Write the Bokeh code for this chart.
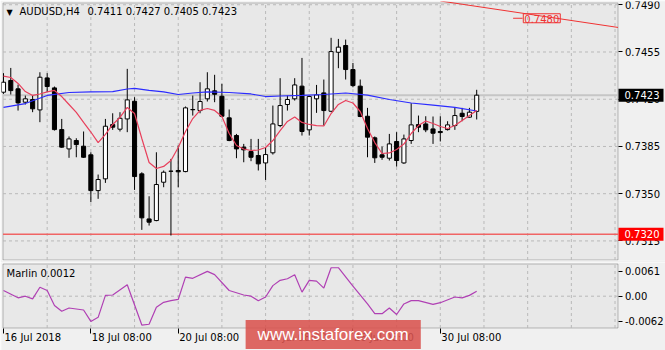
from bokeh.plotting import figure
from bokeh.layouts import column
from bokeh.models import (Range1d, FixedTicker, PrintfTickFormatter, CustomJSTickFormatter,
                          Label, BoxAnnotation, ColumnDataSource)
from bokeh.embed import file_html
from bokeh.resources import INLINE

# ---------------- data ----------------
symbol = "AUDUSD,H4"

bar_open = [0.74252, 0.74339, 0.74277, 0.74178, 0.74198, 0.74121, 0.74358, 0.74284, 0.73975, 0.73832,
            0.73894, 0.73852, 0.73788, 0.73523, 0.73610, 0.74012, 0.73978, 0.74054, 0.74185, 0.73647,
            0.73313, 0.73301, 0.73585, 0.73667, 0.73672, 0.73664, 0.74124, 0.74116, 0.74203, 0.74262,
            0.74222, 0.74062, 0.73931, 0.73845, 0.73812, 0.73783, 0.73728, 0.73803, 0.74005, 0.74161,
            0.74203, 0.74297, 0.73973, 0.74203, 0.74247, 0.74111, 0.74548, 0.74598, 0.74420, 0.74297,
            0.74074, 0.73914, 0.73788, 0.73763, 0.73887, 0.73728, 0.73894, 0.74012, 0.74017, 0.73980,
            0.73961, 0.73975, 0.74005, 0.74096, 0.74067, 0.7411]
bar_high = [0.74393, 0.74432, 0.74309, 0.74227, 0.74227, 0.74400, 0.74393, 0.74294, 0.74054, 0.73924,
            0.73911, 0.73961, 0.73807, 0.73642, 0.74054, 0.74096, 0.74104, 0.74425, 0.74215, 0.73659,
            0.73481, 0.73807, 0.73672, 0.73758, 0.73857, 0.74146, 0.74227, 0.74326, 0.74400, 0.74381,
            0.74314, 0.74124, 0.73943, 0.73869, 0.73906, 0.73906, 0.73845, 0.74153, 0.74356, 0.74227,
            0.74356, 0.74506, 0.74227, 0.74306, 0.74346, 0.74655, 0.74647, 0.74642, 0.74469, 0.74346,
            0.74136, 0.73924, 0.73849, 0.73943, 0.73956, 0.73938, 0.74171, 0.74079, 0.74074, 0.74072,
            0.74074, 0.74037, 0.74141, 0.74136, 0.74136, 0.7427]
bar_low = [0.74240, 0.74235, 0.74116, 0.74161, 0.74104, 0.74030, 0.74252, 0.73968, 0.73840, 0.73766,
           0.73770, 0.73766, 0.73437, 0.73462, 0.73580, 0.73973, 0.73961, 0.73956, 0.73528, 0.73232,
           0.73264, 0.73296, 0.73548, 0.73190, 0.73548, 0.73659, 0.74079, 0.74096, 0.74183, 0.74178,
           0.74067, 0.73889, 0.73763, 0.73733, 0.73741, 0.73672, 0.73602, 0.73790, 0.73993, 0.74116,
           0.74190, 0.73931, 0.73931, 0.74099, 0.74005, 0.74104, 0.74430, 0.74346, 0.74289, 0.74067,
           0.73770, 0.73728, 0.73751, 0.73746, 0.73701, 0.73721, 0.73869, 0.73956, 0.73956, 0.73869,
           0.73887, 0.73968, 0.73973, 0.74037, 0.74062, 0.7405]
bar_close = [0.74326, 0.74264, 0.74173, 0.74203, 0.74129, 0.74363, 0.74294, 0.73975, 0.73845, 0.73906,
             0.73864, 0.73770, 0.73523, 0.73605, 0.74000, 0.73993, 0.74059, 0.74195, 0.73627, 0.73321,
             0.73289, 0.73568, 0.73659, 0.73666, 0.73662, 0.74136, 0.74122, 0.74183, 0.74277, 0.74237,
             0.74074, 0.73894, 0.73832, 0.73825, 0.73770, 0.73721, 0.73790, 0.74017, 0.74153, 0.74198,
             0.74306, 0.73961, 0.74220, 0.74232, 0.74116, 0.74553, 0.74586, 0.74420, 0.74301, 0.74072,
             0.73919, 0.73766, 0.73770, 0.73869, 0.73746, 0.73906, 0.74010, 0.73993, 0.73973, 0.73948,
             0.73953, 0.74010, 0.74079, 0.74072, 0.74104, 0.7423]

# slow moving average (blue), read at selected bars
ma_slow_idx = [0, 3, 6, 9, 12, 15, 17, 18, 20, 22, 24, 26, 28, 31, 34, 36, 38, 41, 44, 47, 50, 53,
               56, 59, 62, 65]
ma_slow_val = [0.74139, 0.74168, 0.74228, 0.74250, 0.74254, 0.74257, 0.74276, 0.74280, 0.74265,
               0.74254, 0.74235, 0.74246, 0.74254, 0.74250, 0.74239, 0.74220, 0.74224, 0.74228,
               0.74235, 0.74246, 0.74231, 0.74198, 0.74172, 0.74157, 0.74139, 0.74113]

# fast moving average (red), one value per bar
ma_fast_val = [0.74371, 0.74361, 0.74317, 0.74257, 0.74228, 0.74239, 0.74254, 0.74265, 0.74220, 0.74161,
               0.74102, 0.74028, 0.73957, 0.73879, 0.73939, 0.74013, 0.74065, 0.74139, 0.74094, 0.73909,
               0.73731, 0.73687, 0.73702, 0.73746, 0.73842, 0.73961, 0.74057, 0.74117, 0.74131, 0.74117,
               0.74072, 0.73946, 0.73857, 0.73831, 0.73820, 0.73824, 0.73842, 0.73894, 0.73968, 0.74035,
               0.74068, 0.74028, 0.74013, 0.74005, 0.74002, 0.74094, 0.74161, 0.74191, 0.74172, 0.74109,
               0.73983, 0.73879, 0.73798, 0.73802, 0.73828, 0.73868, 0.73946, 0.74005, 0.74039, 0.74020,
               0.73998, 0.73983, 0.74005, 0.74042, 0.74079, 0.74117]

# Marlin oscillator
marlin_idx = [0, 2, 3, 4, 5, 6, 7, 8, 9, 11, 12, 13, 14, 15, 17, 19, 20, 21, 22, 23, 24, 25, 26, 28,
              29, 31, 33, 34, 35, 36, 37, 38, 39, 40, 41, 42, 43, 44, 45, 46, 48, 50, 51, 52, 53, 54,
              55, 56, 57, 59, 60, 62, 63, 64, 65]
marlin_val = [0.0014, -0.0004, 0.0000, -0.00065, 0.0022, 0.0014, -0.0023, -0.0037, -0.0029, -0.0034,
              -0.0062, -0.0052, 0.0002, 0.0003, 0.0028, -0.0071, -0.0069, -0.0027, -0.0015, -0.0011,
              -0.0008, 0.0047, 0.0044, 0.0061, 0.0053, 0.0014, 0.0003, 0.0000, -0.0011, -0.0002,
              0.0026, 0.0039, 0.0043, 0.0053, 0.0010, 0.0039, 0.0037, 0.0020, 0.0070, 0.0070, 0.0025,
              -0.0019, -0.0043, -0.0043, -0.0029, -0.0045, -0.0019, -0.0011, -0.0011, -0.0020, -0.0016,
              -0.0002, -0.0004, 0.0002, 0.0012]

# levels and trend line
support_level = 0.7320
trend_x = [60, 84.41]
trend_y = [0.74928, 0.74732]
trend_label_price = 0.7480
trend_label_idx = 71.4
trend_tick_x = [70.0, 71.3]

# axes
price_ticks = [0.7490, 0.7455, 0.7420, 0.7385, 0.7350, 0.7315]
marlin_ticks = [0.0061, 0.0, -0.0062]
date_ticks = [0, 12, 24, 36, 48, 60]
date_labels = ["16 Jul 2018", "18 Jul 08:00", "20 Jul 08:00", "24 Jul 08:00", "26 Jul 08:00",
               "30 Jul 08:00"]
grid_ticks = [6, 12, 18, 24, 30, 36, 42, 48, 54, 60, 66, 72, 78, 84]

# ---------------- layout geometry (canvas pixels -> data) ----------------
PX0, PXB = 3.0, 7.28               # canvas x of bar 0, pixels per bar
P_REF, P_PX = 0.749316, 0.0000741  # price at canvas y=0, price per pixel
M_ZERO, M_PX = 295.7, 0.000246     # canvas y of Marlin 0, Marlin units per pixel


def xd(cx):
    return (cx - PX0) / PXB


def yd(cy):
    return P_REF - P_PX * cy


def md(cy):
    return (M_ZERO - cy) * M_PX


FONT = "DejaVu Sans"
BG = "#E8E8E8"
BORDER = "#F0F0F0"
GRID = "#B9B9B9"
FRAME = "#333333"

x_left, x_right = xd(2.5), xd(617.5)
main_top, main_bot = yd(2.5), yd(259.5)
ind_top, ind_bot = md(263.5), md(327.5)

n = len(bar_open)
idx = list(range(n))
up = [c >= o for o, c in zip(bar_open, bar_close)]
src = ColumnDataSource(dict(
    x=idx, h=bar_high, l=bar_low,
    top=[max(o, c) for o, c in zip(bar_open, bar_close)],
    bot=[min(o, c) for o, c in zip(bar_open, bar_close)],
    fill=["#FFFFFF" if u else "#000000" for u in up],
))

xr = Range1d(xd(1), xd(665))

# ---------------- main price panel ----------------
p = figure(width=665, height=262, x_range=xr, y_range=Range1d(yd(260), yd(1)),
           output_backend="svg", toolbar_location=None, x_axis_location=None,
           y_axis_location="right", min_border_left=1, min_border_right=0,
           min_border_top=1, min_border_bottom=2, background_fill_color=BORDER,
           border_fill_color=BORDER, outline_line_color=None)
p.grid.visible = False

p.add_layout(BoxAnnotation(left=x_left, right=x_right, top=main_top, bottom=main_bot,
                           fill_color=BG, fill_alpha=1, line_color=FRAME, line_width=1,
                           level="underlay"))

# grid
p.segment(x0=grid_ticks, y0=[main_bot] * len(grid_ticks), x1=grid_ticks,
          y1=[main_top] * len(grid_ticks), line_color=GRID, line_dash="3 3", line_width=1)
p.segment(x0=[x_left] * len(price_ticks), y0=price_ticks, x1=[x_right] * len(price_ticks),
          y1=price_ticks, line_color=GRID, line_dash="3 3", line_width=1)

p.yaxis.fixed_location = x_right
p.yaxis.ticker = FixedTicker(ticks=price_ticks)
p.yaxis.formatter = PrintfTickFormatter(format="%.4f")
p.yaxis.major_tick_out = 4
p.yaxis.major_tick_in = 0
p.yaxis.minor_tick_line_color = None
p.yaxis.axis_line_color = None
p.yaxis.major_tick_line_color = "#000000"
p.yaxis.major_label_standoff = 3
p.yaxis.major_label_text_font = FONT
p.yaxis.major_label_text_font_size = "10px"
p.yaxis.major_label_text_color = "#000000"

# bid line and support level
p.line([x_left, x_right], [bar_close[-1]] * 2, line_color="#C6C6C6", line_width=2)
p.line([x_left, x_right], [support_level] * 2, line_color="#F06464", line_width=1.5)

# trend line with its price label
p.line(trend_x, trend_y, line_color="#F03232", line_width=1)
p.segment(x0=[trend_tick_x[0]], y0=[trend_label_price], x1=[trend_tick_x[1]],
          y1=[trend_label_price], line_color="#F03232", line_width=1)
p.add_layout(Label(x=trend_label_idx, y=trend_label_price, text=f"{trend_label_price:.4f}",
                   text_font=FONT, text_font_size="10px", text_color="#F03232",
                   text_baseline="middle", text_align="left",
                   border_line_color="#F03232", border_line_width=1,
                   padding=dict(left=1, right=1, top=1, bottom=0)))

# candles
p.segment(x0="x", y0="l", x1="x", y1="h", source=src, line_color="#000000", line_width=1)
p.vbar(x="x", top="top", bottom="bot", width=0.56, source=src, fill_color="fill",
       line_color="#000000", line_width=1)

# moving averages
p.line(ma_slow_idx, ma_slow_val, line_color="#2B2BFF", line_width=1.2)
p.line(idx, ma_fast_val, line_color="#E8405C", line_width=1.2)

# header
p.add_layout(Label(x=xd(6), y=yd(11.5), text="\u25BC", text_font=FONT, text_font_size="8px",
                   text_color="#000000", text_baseline="middle"))
p.add_layout(Label(x=xd(19), y=yd(16.5), text=symbol, text_font=FONT, text_font_size="10px",
                   text_color="#000000"))
p.add_layout(Label(x=xd(87), y=yd(16.5),
                   text=" ".join(f"{v:.4f}" for v in (bar_open[-1], bar_high[-1], bar_low[-1], bar_close[-1])),
                   text_font=FONT, text_font_size="10px", text_color="#000000"))

# price boxes on the right scale (box drawn above the axis, then its text)
for lvl, col in ((bar_close[-1], "#000000"), (support_level, "#FF0000")):
    p.add_layout(BoxAnnotation(left=xd(618), right=xd(663), top=lvl + 6.5 * P_PX,
                               bottom=lvl - 6.5 * P_PX, fill_color=col, fill_alpha=1,
                               line_color=None))
    p.add_layout(Label(x=xd(624), y=lvl, text=f"{lvl:.4f}", text_font=FONT,
                       text_font_size="10px", text_color="#FFFFFF", text_baseline="middle"))

# ---------------- indicator panel ----------------
q = figure(width=665, height=88, x_range=xr, y_range=Range1d(md(350), md(262)),
           output_backend="svg", toolbar_location=None, y_axis_location="right",
           x_axis_location="below", min_border_left=1, min_border_right=0, min_border_top=0,
           min_border_bottom=0, background_fill_color=BORDER, border_fill_color=BORDER,
           outline_line_color=None)
q.grid.visible = False

q.add_layout(BoxAnnotation(left=x_left, right=x_right, top=ind_top, bottom=ind_bot,
                           fill_color=BG, fill_alpha=1, line_color=FRAME, line_width=1,
                           level="underlay"))
q.segment(x0=grid_ticks, y0=[ind_bot] * len(grid_ticks), x1=grid_ticks,
          y1=[ind_top] * len(grid_ticks), line_color=GRID, line_dash="3 3", line_width=1)
q.segment(x0=[x_left], y0=[0.0], x1=[x_right], y1=[0.0], line_color=GRID, line_dash="3 3",
          line_width=1)

q.yaxis.fixed_location = x_right
q.yaxis.ticker = FixedTicker(ticks=marlin_ticks)
q.yaxis.formatter = CustomJSTickFormatter(code="return tick == 0 ? '0.00' : tick.toFixed(4);")
q.xaxis.fixed_location = ind_bot
q.xaxis.ticker = FixedTicker(ticks=date_ticks)
q.xaxis.formatter = CustomJSTickFormatter(code="return '';")
for ax in (q.yaxis, q.xaxis):
    ax.major_tick_in = 0
    ax.minor_tick_line_color = None
    ax.axis_line_color = None
    ax.major_tick_line_color = "#000000"
    ax.major_label_text_font = FONT
    ax.major_label_text_font_size = "10px"
    ax.major_label_text_color = "#000000"
q.yaxis.major_tick_out = 4
q.yaxis.major_label_standoff = 3
q.xaxis.major_tick_out = 5

q.line(marlin_idx, marlin_val, line_color="#B040B4", line_width=1.2)

q.add_layout(Label(x=xd(6), y=md(272.5), text=f"Marlin {marlin_val[-1]:.4f}", text_font=FONT,
                   text_font_size="10px", text_color="#000000", text_baseline="middle"))

for t, s in zip(date_ticks, date_labels):
    q.add_layout(Label(x=t, y=md(331), x_offset=1, text=s, text_font=FONT,
                       text_font_size="10px", text_color="#000000", text_baseline="top"))

q.add_layout(Label(x=xd(332.7), y=md(334), text="www.instaforex.com",
                   text_font="Liberation Sans", text_font_size="17px", text_color="#FFFFFF",
                   text_align="center", text_baseline="middle",
                   background_fill_color="#D9534F", background_fill_alpha=0.88,
                   padding=dict(left=12, right=12, top=5, bottom=5)))

layout = column(p, q, spacing=0)
open("out.html", "w").write(file_html(layout, INLINE))
